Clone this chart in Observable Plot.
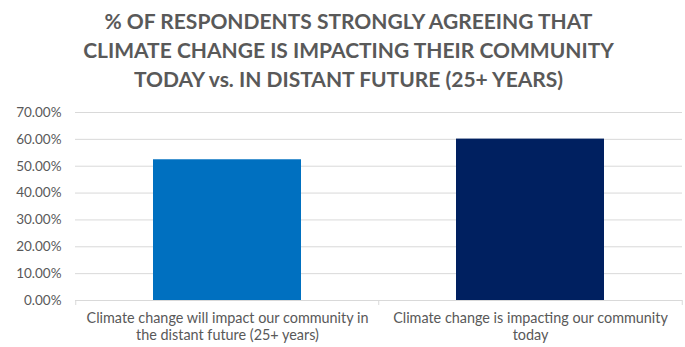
<!DOCTYPE html>
<html>
<head>
<meta charset="utf-8">
<script src="https://cdn.jsdelivr.net/npm/d3@7"></script>
<script src="https://cdn.jsdelivr.net/npm/@observablehq/plot@0.6"></script>
<style>
  html, body { margin: 0; padding: 0; background: #fff; }
  #title { width: 685px; height: 98px; box-sizing: border-box; padding-top: 6px; padding-left: 12px;
    font-family: Lato, "Open Sans", sans-serif; font-weight: 700; font-size: 21px;
    line-height: 29px; color: #595959; text-align: center; }
  #chart { width: 685px; height: 249px; }
</style>
</head>
<body>
<div id="title">% OF RESPONDENTS STRONGLY AGREEING THAT<br>CLIMATE CHANGE IS IMPACTING THEIR COMMUNITY<br>TODAY vs. IN DISTANT FUTURE (25+ YEARS)</div>
<div id="chart"></div>
<script>
const categories = [
  "Climate change will impact our community in\nthe distant future (25+ years)",
  "Climate change is impacting our community\ntoday"
];
const values = [0.524, 0.601];
const colors = ["#0070C0", "#002060"];
const yTicks = [0, 0.1, 0.2, 0.3, 0.4, 0.5, 0.6, 0.7];

const data = categories.map((c, i) => ({category: c, value: values[i], color: colors[i]}));

const width = 685, marginLeft = 75, marginRight = 3;
const pin = 0.51, pout = 0.255;
const step = (width - marginLeft - marginRight) / (categories.length - pin + 2 * pout);

const chart = Plot.plot({
  width,
  height: 249,
  marginLeft,
  marginRight,
  marginTop: 14,
  marginBottom: 47,
  style: { fontFamily: "Lato, 'Open Sans', sans-serif", fontSize: "14px", color: "#595959", background: "#fff" },
  x: { domain: categories, paddingInner: pin, paddingOuter: pout, label: null },
  y: { domain: [0, 0.7], label: null },
  marks: [
    Plot.ruleY(yTicks.filter(d => d > 0), { stroke: "#d9d9d9", strokeWidth: 1 }),
    Plot.barY(data, { x: "category", y: "value", fill: "color" }),
    Plot.ruleY([0], { stroke: "#d9d9d9", strokeWidth: 1 }),
    Plot.ruleX(categories, { x: d => d, y1: 0, y2: 0, dx: -step / 2, insetBottom: -5, stroke: "#d9d9d9" }),
    Plot.ruleX([categories[categories.length - 1]], { x: d => d, y1: 0, y2: 0, dx: step / 2, insetBottom: -5, stroke: "#d9d9d9" }),
    Plot.axisY({ ticks: yTicks, tickFormat: d3.format(".2%"), tickSize: 0, tickPadding: 14, fontSize: 13.5, fill: "#595959" }),
    Plot.axisX({ tickSize: 0, tickPadding: 10, fontSize: 14.4, fill: "#595959", lineHeight: 1.2 })
  ]
});
document.getElementById("chart").appendChild(chart);
</script>
</body>
</html>
